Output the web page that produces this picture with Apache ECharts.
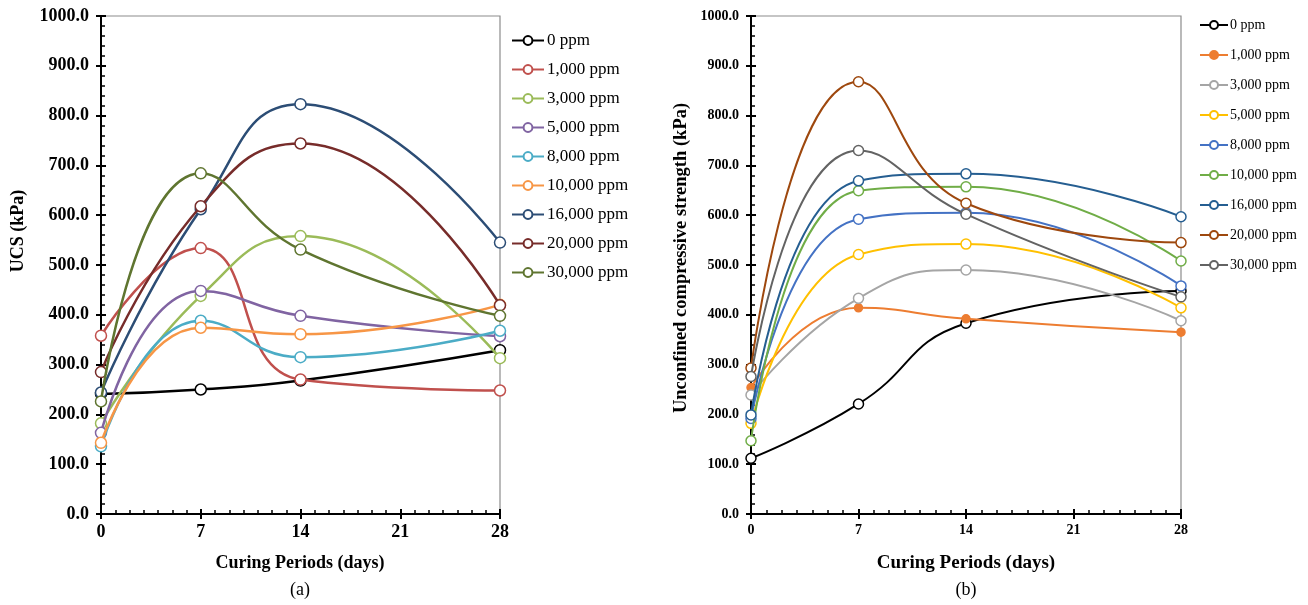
<!DOCTYPE html>
<html>
<head>
<meta charset="utf-8">
<script src="https://cdn.jsdelivr.net/npm/echarts@6/dist/echarts.min.js"></script>
<style>
  html, body { margin: 0; padding: 0; background: #fff; }
  #main { width: 1308px; height: 605px; }
</style>
</head>
<body>
<div id="main"></div>
<script>
// curing periods (days) where samples were tested
var days = [0, 7, 14, 28];
var xTicks = [0, 7, 14, 21, 28];
var seriesNames = ["0 ppm", "1,000 ppm", "3,000 ppm", "5,000 ppm", "8,000 ppm",
  "10,000 ppm", "16,000 ppm", "20,000 ppm", "30,000 ppm"];

// (a) UCS (kPa)
var ucsA_0 = [241, 250, 268, 329];
var ucsA_1000 = [358, 534, 270, 248];
var ucsA_3000 = [182, 438, 558, 313];
var ucsA_5000 = [163, 448, 398, 357];
var ucsA_8000 = [136, 388, 315, 368];
var ucsA_10000 = [143, 374, 361, 420];
var ucsA_16000 = [244, 612, 823, 545];
var ucsA_20000 = [285, 618, 744, 419];
var ucsA_30000 = [226, 684, 531, 398];

// (b) unconfined compressive strength (kPa)
var ucsB_0 = [112, 221, 383, 448];
var ucsB_1000 = [254, 414, 392, 365];
var ucsB_3000 = [239, 433, 490, 388];
var ucsB_5000 = [182, 521, 542, 414];
var ucsB_8000 = [192, 592, 605, 458];
var ucsB_10000 = [147, 649, 657, 508];
var ucsB_16000 = [199, 669, 683, 597];
var ucsB_20000 = [293, 868, 624, 545];
var ucsB_30000 = [276, 730, 602, 436];

var colorsA = ["#000000", "#C0504D", "#9BBB59", "#8064A2", "#4BACC6",
  "#F79646", "#2C4D75", "#772C2A", "#5F7530"];
var colorsB = ["#000000", "#ED7D31", "#A5A5A5", "#FFC000", "#4472C4",
  "#70AD47", "#255E91", "#9E480E", "#636363"];

var valuesA = [ucsA_0, ucsA_1000, ucsA_3000, ucsA_5000, ucsA_8000,
  ucsA_10000, ucsA_16000, ucsA_20000, ucsA_30000];
var valuesB = [ucsB_0, ucsB_1000, ucsB_3000, ucsB_5000, ucsB_8000,
  ucsB_10000, ucsB_16000, ucsB_20000, ucsB_30000];

var font = "'Liberation Serif', 'Times New Roman', serif";

var pairs = function (vals) {
  return days.map(function (d, i) { return [d, vals[i]]; });
};

// main axes: inside ticks + minor ticks; ghost axes: outside major ticks only
var makeX = function (grid, fs) {
  return [
    {
      type: "value", gridIndex: grid, min: xTicks[0], max: xTicks[xTicks.length - 1], interval: 7,
      position: "bottom",
      axisLine: { show: true, lineStyle: { color: "#000", width: 2 } },
      axisTick: { show: true, inside: true, length: 5, lineStyle: { color: "#000", width: 2 } },
      minorTick: { show: true, splitNumber: 7, length: 4, lineStyle: { color: "#000", width: 1.5 } },
      axisLabel: { color: "#000", fontFamily: font, fontWeight: "bold", fontSize: fs, margin: 9 },
      splitLine: { show: false },
    },
    {
      type: "value", gridIndex: grid, min: 0, max: 28, interval: 7, position: "bottom",
      axisLine: { show: false },
      axisTick: { show: true, inside: false, length: 5, lineStyle: { color: "#000", width: 2 } },
      axisLabel: { show: false },
      splitLine: { show: false },
    },
  ];
};

var makeY = function (grid, fs) {
  return [
    {
      type: "value", gridIndex: grid, min: 0, max: 1000, interval: 100,
      position: "left",
      axisLine: { show: true, lineStyle: { color: "#000", width: 2 } },
      axisTick: { show: true, inside: true, length: 5, lineStyle: { color: "#000", width: 2 } },
      minorTick: { show: true, splitNumber: 5, length: 4, lineStyle: { color: "#000", width: 1.5 } },
      axisLabel: {
        color: "#000", fontFamily: font, fontWeight: "bold", fontSize: fs, margin: 12,
        formatter: function (v) { return v.toFixed(1); },
      },
      splitLine: { show: false },
    },
    {
      type: "value", gridIndex: grid, min: 0, max: 1000, interval: 100, position: "left",
      axisLine: { show: false },
      axisTick: { show: true, inside: false, length: 5, lineStyle: { color: "#000", width: 2 } },
      axisLabel: { show: false },
      splitLine: { show: false },
    },
  ];
};

var series = [];
seriesNames.forEach(function (name, i) {
  series.push({
    name: name, type: "line", xAxisIndex: 0, yAxisIndex: 0,
    data: pairs(valuesA[i]), smooth: 0.5,
    symbol: "circle", symbolSize: 11,
    lineStyle: { color: colorsA[i], width: 2.5 },
    itemStyle: { color: "#fff", borderColor: colorsA[i], borderWidth: 1.5 },
    z: 2 + i,
  });
});
seriesNames.forEach(function (name, i) {
  var filled = i === 1;
  series.push({
    name: name + " ", type: "line", xAxisIndex: 2, yAxisIndex: 2,
    data: pairs(valuesB[i]), smooth: 0.5,
    symbol: "circle", symbolSize: filled ? 8 : 10,
    lineStyle: { color: colorsB[i], width: 2 },
    itemStyle: { color: filled ? colorsB[i] : "#fff", borderColor: colorsB[i], borderWidth: 1.5 },
    z: 2 + i,
  });
});

var chart = echarts.init(document.getElementById("main"));

var option = {
  animation: false,
  textStyle: { fontFamily: font },
  grid: [
    { left: 101, top: 16, width: 399, height: 498, show: true, borderColor: "#8c8c8c", borderWidth: 1.2 },
    { left: 751, top: 16, width: 430, height: 498, show: true, borderColor: "#8c8c8c", borderWidth: 1.2 },
  ],
  xAxis: makeX(0, 18).concat(makeX(1, 14)),
  yAxis: makeY(0, 18).concat(makeY(1, 14)),
  legend: [
    {
      data: seriesNames, orient: "vertical", left: 506, top: 27,
      itemWidth: 32, itemHeight: 11, itemGap: 12,
      textStyle: { color: "#000", fontFamily: font, fontSize: 17, padding: [0, 0, 0, -2] },
    },
    {
      data: seriesNames.map(function (n) { return n + " "; }), orient: "vertical", left: 1194, top: 13,
      itemWidth: 28, itemHeight: 10, itemGap: 16,
      textStyle: { color: "#000", fontFamily: font, fontSize: 14, padding: [0, 0, 0, -3] },
    },
  ],
  graphic: [
    { type: "text", x: 18, y: 231, rotation: Math.PI / 2,
      style: { text: "UCS (kPa)", fill: "#000", font: "bold 18px " + font, align: "center", verticalAlign: "middle" } },
    { type: "text", x: 681, y: 258, rotation: Math.PI / 2,
      style: { text: "Unconfined compressive strength (kPa)", fill: "#000", font: "bold 18.5px " + font, align: "center", verticalAlign: "middle" } },
    { type: "text", x: 300, y: 563,
      style: { text: "Curing Periods (days)", fill: "#000", font: "bold 18px " + font, align: "center", verticalAlign: "middle" } },
    { type: "text", x: 966, y: 563,
      style: { text: "Curing Periods (days)", fill: "#000", font: "bold 19px " + font, align: "center", verticalAlign: "middle" } },
    { type: "text", x: 300, y: 590,
      style: { text: "(a)", fill: "#000", font: "18px " + font, align: "center", verticalAlign: "middle" } },
    { type: "text", x: 966, y: 590,
      style: { text: "(b)", fill: "#000", font: "18px " + font, align: "center", verticalAlign: "middle" } },
  ],
  series: series,
};

chart.setOption(option);
</script>
</body>
</html>
